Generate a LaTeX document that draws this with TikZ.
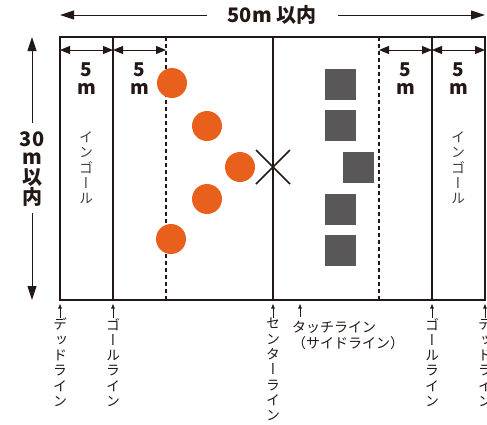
\documentclass[tikz,border=0pt]{standalone}
\usepackage{fontspec}
\usetikzlibrary{arrows.meta}
\newfontfamily\jp{Noto Sans CJK JP}
\newfontfamily\jpv[RawFeature=+vert]{Noto Sans CJK JP}
\IfFontExistsTF{Noto Sans CJK JP Black}
  {\newfontfamily\jpheavy{Noto Sans CJK JP Black}}
  {\newfontfamily\jpheavy{Noto Sans CJK JP}[UprightFont=*,UprightFeatures={FakeBold=1.5}]}
\definecolor{ink}{HTML}{231815}
\definecolor{ball}{HTML}{E8601C}
\definecolor{guard}{HTML}{595757}
\begin{document}
\begin{tikzpicture}[x=1pt,y=-1pt,
    line/.style={ink,line width=1.6pt},
    dashline/.style={ink,line width=1.8pt,dash pattern=on 4pt off 3pt},
    span/.style={ink,line width=1pt},
    bighead/.style={-{Triangle[length=14pt,width=9pt]}},
    fivem/.style={ink,line width=1pt,{Triangle[length=10pt,width=8pt]}-{Triangle[length=10pt,width=8pt]}},
    pointer/.style={ink,line width=0.6pt,-{Triangle[length=4.5pt,width=3.5pt]}},
    player/.style={circle,fill=ball,minimum size=30pt,inner sep=0pt},
    shield/.style={rectangle,fill=guard,minimum size=31pt,inner sep=0pt},
    big/.style={text=ink,font=\jpheavy\fontsize{20}{20}\selectfont,inner sep=0pt},
    small/.style={text=ink,font=\jpheavy\fontsize{19}{19}\selectfont,inner sep=0pt},
    upright/.style={text=ink,align=center,inner sep=0pt,font=\jpv\fontsize{14}{15.3}\selectfont}]
  \useasboundingbox (0,0) rectangle (487,424);

  % field lines
  \coordinate (dlt) at (60,37);    \coordinate (dlb) at (60,300);
  \coordinate (glt) at (113,37);   \coordinate (glb) at (113,300);
  \coordinate (ft) at (166,37);    \coordinate (fb) at (166,300);
  \coordinate (ct) at (273,37);    \coordinate (cb) at (273,300);
  \coordinate (gt) at (379,37);    \coordinate (gb) at (379,300);
  \coordinate (grt) at (432,37);   \coordinate (grb) at (432,300);
  \coordinate (drt) at (485,37);   \coordinate (drb) at (485,300);

  \draw[line] (dlt) rectangle (drb);
  \draw[line] (glt) -- (glb);
  \draw[line] (ct) -- (cb);
  \draw[line] (grt) -- (grb);
  \draw[dashline] (ft) -- (fb);
  \draw[dashline] (gt) -- (gb);

  % overall size
  \node[big] (width) at (272,15) {50m 以内};
  \coordinate (wl) at (60,15);   \coordinate (wla) at (207,15);
  \coordinate (wr) at (485,15);  \coordinate (wra) at (338,15);
  \draw[span,bighead] (wla) -- (wl);
  \draw[span,bighead] (wra) -- (wr);

  \node[big] (h30) at (32,139) {30};
  \node[big] (hm) at (32,159) {m};
  \node[big] (hi) at (32,177) {以};
  \node[big] (hn) at (32,197) {内};
  \coordinate (ht) at (32,37);   \coordinate (hta) at (32,123);
  \coordinate (hb) at (32,300);  \coordinate (hba) at (32,213);
  \draw[span,bighead] (hta) -- (ht);
  \draw[span,bighead] (hba) -- (hb);

  % 5 m marks
  \foreach \a/\b/\n in {60/113/a, 113/166/b, 379/432/c, 432/485/d}{
    \coordinate (m\n l) at (\a,50);
    \coordinate (m\n r) at (\b,50);
    \draw[fivem] (m\n l) -- (m\n r);
    \node[small] (five\n) at ({(\a+\b)/2},70) {5};
    \node[small] (unit\n) at ({(\a+\b)/2},89) {m};
  }

  % in-goal
  \node[upright,text=ink!85] (igl) at (86,168) {イ\\ン\\ゴ\\ー\\ル};
  \node[upright,text=ink!85] (igr) at (458,168) {イ\\ン\\ゴ\\ー\\ル};

  % players and shields
  \node[player] (p1) at (172,83) {};
  \node[player] (p2) at (207,126) {};
  \node[player] (p3) at (240,167) {};
  \node[player] (p4) at (207,199) {};
  \node[player] (p5) at (171,239) {};
  \node[shield] (s1) at (340.5,84.5) {};
  \node[shield] (s2) at (340.5,125.5) {};
  \node[shield] (s3) at (358.5,167.5) {};
  \node[shield] (s4) at (340.5,209.5) {};
  \node[shield] (s5) at (340.5,250.5) {};

  % kick-off mark
  \coordinate (xa) at (256,150); \coordinate (xb) at (290,184);
  \coordinate (xc) at (290,150); \coordinate (xd) at (256,184);
  \draw[ink,line width=1.6pt] (xa) -- (xb);
  \draw[ink,line width=1.6pt] (xc) -- (xd);

  % line names
  \foreach \x/\n/\t in {60/l1/デ\\ッ\\ド\\ラ\\イ\\ン, 113/l2/ゴ\\ー\\ル\\ラ\\イ\\ン,
                        273/l3/セ\\ン\\タ\\ー\\ラ\\イ\\ン, 432/l4/ゴ\\ー\\ル\\ラ\\イ\\ン,
                        485/l5/デ\\ッ\\ド\\ラ\\イ\\ン}{
    \node[upright,anchor=north] (\n) at (\x,318) {\t};
    \coordinate (\n tip) at (\x,304);
    \draw[pointer] (\n.north) -- (\n tip);
  }
  \node[text=ink,anchor=north west,align=left,inner sep=0pt,
        font=\jp\fontsize{14}{15.5}\selectfont] (touch) at (292,321)
        {タッチライン\\（サイドライン）};
  \coordinate (touchtip) at (300,304);
  \coordinate (touchfoot) at (300,317);
  \draw[pointer] (touchfoot) -- (touchtip);
\end{tikzpicture}
\end{document}
